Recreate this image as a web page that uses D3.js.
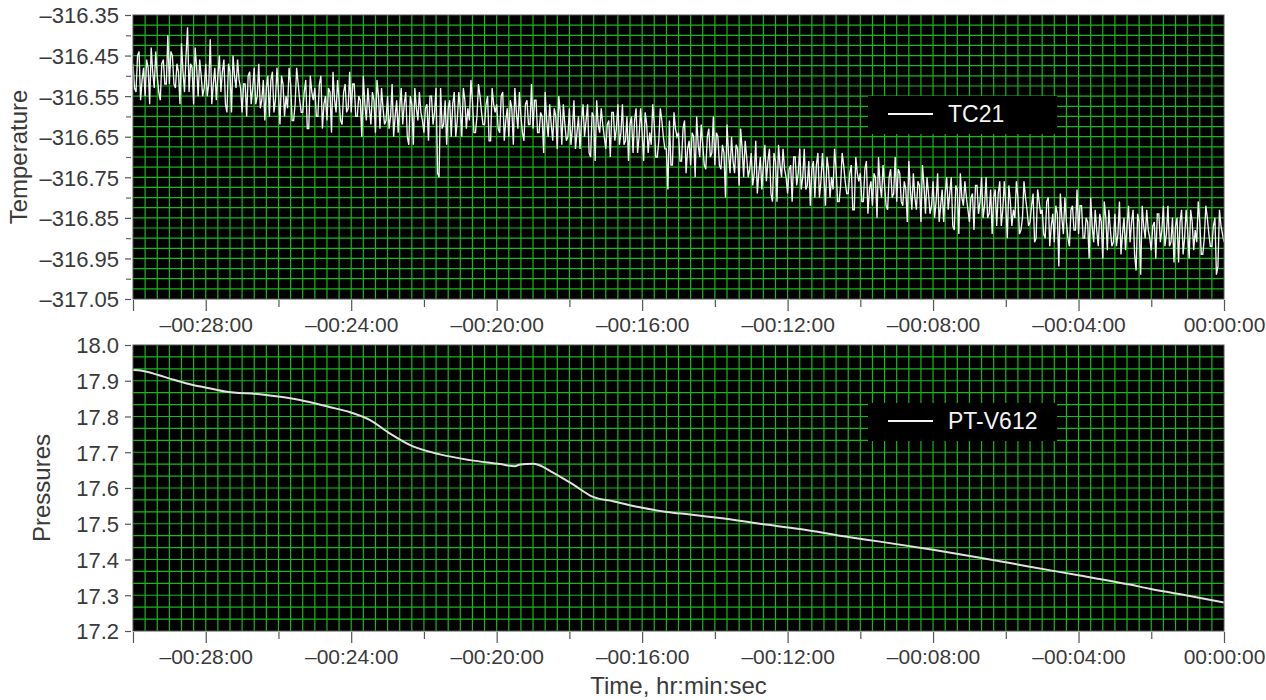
<!DOCTYPE html>
<html>
<head>
<meta charset="utf-8">
<script src="https://cdn.jsdelivr.net/npm/d3@7"></script>
<style>
  html, body { margin: 0; padding: 0; background: #fff; }
  svg { display: block; }
</style>
</head>
<body>
<svg id="chart" width="1266" height="700"></svg>
<script>
// ---------------- DATA ----------------
// Temperature TC21: sampled every 2.5 s from -00:30:00 to 00:00:00
const tempStartSec = -1800;
const tempStepSec = 2.5;
const tempValues = [
  -316.47,-316.53,-316.54,-316.45,-316.44,-316.56,-316.51,-316.48,-316.55,-316.46,-316.48,-316.57,-316.43,-316.49,-316.53,-316.44,-316.50,-316.54,-316.56,-316.47,-316.46,-316.52,-316.52,-316.40,
  -316.52,-316.44,-316.45,-316.52,-316.53,-316.47,-316.49,-316.57,-316.42,-316.49,-316.54,-316.45,-316.38,-316.54,-316.47,-316.48,-316.57,-316.43,-316.48,-316.55,-316.46,-316.50,-316.55,-316.53,
  -316.47,-316.55,-316.52,-316.41,-316.57,-316.52,-316.48,-316.56,-316.50,-316.45,-316.54,-316.49,-316.46,-316.57,-316.59,-316.47,-316.49,-316.59,-316.45,-316.50,-316.53,-316.46,-316.51,-316.53,
  -316.59,-316.52,-316.52,-316.60,-316.50,-316.49,-316.57,-316.53,-316.48,-316.57,-316.55,-316.47,-316.58,-316.56,-316.51,-316.61,-316.53,-316.50,-316.60,-316.51,-316.49,-316.59,-316.56,-316.48,
  -316.54,-316.62,-316.50,-316.52,-316.60,-316.55,-316.58,-316.48,-316.52,-316.61,-316.61,-316.57,-316.48,-316.52,-316.56,-316.59,-316.59,-316.54,-316.51,-316.63,-316.63,-316.50,-316.54,-316.56,
  -316.53,-316.60,-316.60,-316.52,-316.50,-316.63,-316.57,-316.55,-316.61,-316.53,-316.54,-316.64,-316.49,-316.56,-316.59,-316.51,-316.56,-316.61,-316.62,-316.54,-316.52,-316.59,-316.58,-316.49,
  -316.59,-316.52,-316.52,-316.60,-316.60,-316.55,-316.56,-316.65,-316.50,-316.57,-316.61,-316.53,-316.58,-316.62,-316.54,-316.56,-316.64,-316.51,-316.55,-316.63,-316.53,-316.58,-316.62,-316.61,
  -316.55,-316.63,-316.60,-316.52,-316.65,-316.60,-316.56,-316.64,-316.58,-316.53,-316.62,-316.57,-316.54,-316.65,-316.67,-316.55,-316.57,-316.67,-316.53,-316.58,-316.61,-316.54,-316.59,-316.61,
  -316.64,-316.58,-316.57,-316.66,-316.55,-316.55,-316.62,-316.59,-316.53,-316.74,-316.75,-316.53,-316.63,-316.62,-316.56,-316.67,-316.58,-316.56,-316.65,-316.57,-316.54,-316.65,-316.61,-316.54,
  -316.58,-316.65,-316.53,-316.56,-316.63,-316.58,-316.61,-316.51,-316.56,-316.64,-316.64,-316.60,-316.52,-316.55,-316.59,-316.62,-316.62,-316.57,-316.55,-316.66,-316.66,-316.53,-316.57,-316.59,
  -316.57,-316.63,-316.64,-316.55,-316.54,-316.66,-316.61,-316.58,-316.65,-316.56,-316.58,-316.67,-316.53,-316.59,-316.63,-316.54,-316.60,-316.64,-316.66,-316.57,-316.56,-316.62,-316.62,-316.52,
  -316.63,-316.56,-316.56,-316.64,-316.64,-316.59,-316.60,-316.69,-316.54,-316.61,-316.65,-316.57,-316.62,-316.66,-316.58,-316.60,-316.68,-316.55,-316.59,-316.67,-316.57,-316.62,-316.66,-316.65,
  -316.58,-316.67,-316.63,-316.56,-316.68,-316.64,-316.60,-316.68,-316.61,-316.57,-316.65,-316.61,-316.57,-316.69,-316.70,-316.59,-316.60,-316.71,-316.56,-316.62,-316.64,-316.58,-316.62,-316.65,
  -316.68,-316.62,-316.61,-316.70,-316.59,-316.59,-316.66,-316.63,-316.57,-316.67,-316.64,-316.57,-316.67,-316.66,-316.60,-316.71,-316.62,-316.60,-316.69,-316.61,-316.58,-316.69,-316.65,-316.58,
  -316.64,-316.71,-316.59,-316.62,-316.69,-316.64,-316.67,-316.57,-316.62,-316.70,-316.70,-316.66,-316.58,-316.61,-316.65,-316.68,-316.68,-316.78,-316.61,-316.72,-316.72,-316.59,-316.63,-316.65,
  -316.64,-316.71,-316.71,-316.63,-316.61,-316.74,-316.68,-316.66,-316.72,-316.64,-316.65,-316.75,-316.60,-316.67,-316.70,-316.62,-316.67,-316.72,-316.73,-316.65,-316.63,-316.70,-316.69,-316.60,
  -316.72,-316.64,-316.65,-316.72,-316.73,-316.67,-316.69,-316.80,-316.62,-316.69,-316.74,-316.65,-316.71,-316.74,-316.67,-316.68,-316.77,-316.63,-316.68,-316.75,-316.66,-316.70,-316.75,-316.73,
  -316.69,-316.77,-316.74,-316.66,-316.79,-316.74,-316.70,-316.78,-316.72,-316.67,-316.76,-316.71,-316.68,-316.79,-316.81,-316.69,-316.71,-316.81,-316.67,-316.72,-316.75,-316.68,-316.73,-316.75,
  -316.79,-316.73,-316.72,-316.81,-316.70,-316.70,-316.77,-316.74,-316.68,-316.78,-316.75,-316.68,-316.78,-316.77,-316.71,-316.82,-316.73,-316.71,-316.80,-316.72,-316.69,-316.80,-316.76,-316.69,
  -316.75,-316.82,-316.70,-316.73,-316.80,-316.75,-316.78,-316.68,-316.73,-316.81,-316.81,-316.77,-316.69,-316.72,-316.76,-316.79,-316.79,-316.74,-316.72,-316.83,-316.83,-316.70,-316.74,-316.76,
  -316.74,-316.81,-316.81,-316.73,-316.71,-316.84,-316.78,-316.76,-316.82,-316.74,-316.75,-316.85,-316.70,-316.77,-316.80,-316.72,-316.77,-316.82,-316.83,-316.75,-316.73,-316.80,-316.79,-316.70,
  -316.81,-316.73,-316.74,-316.81,-316.82,-316.76,-316.78,-316.86,-316.71,-316.78,-316.83,-316.74,-316.80,-316.83,-316.76,-316.77,-316.86,-316.72,-316.77,-316.84,-316.75,-316.79,-316.84,-316.82,
  -316.76,-316.85,-316.81,-316.74,-316.86,-316.82,-316.78,-316.86,-316.79,-316.75,-316.83,-316.79,-316.75,-316.87,-316.88,-316.77,-316.78,-316.89,-316.74,-316.80,-316.82,-316.76,-316.80,-316.83,
  -316.86,-316.80,-316.79,-316.88,-316.77,-316.77,-316.84,-316.81,-316.75,-316.85,-316.82,-316.75,-316.85,-316.84,-316.78,-316.89,-316.80,-316.78,-316.87,-316.79,-316.76,-316.87,-316.83,-316.76,
  -316.82,-316.90,-316.77,-316.81,-316.87,-316.83,-316.85,-316.76,-316.80,-316.89,-316.88,-316.85,-316.76,-316.80,-316.83,-316.87,-316.86,-316.82,-316.79,-316.91,-316.90,-316.78,-316.81,-316.84,
  -316.83,-316.89,-316.90,-316.81,-316.80,-316.92,-316.87,-316.84,-316.91,-316.82,-316.84,-316.97,-316.79,-316.85,-316.89,-316.80,-316.86,-316.90,-316.92,-316.83,-316.82,-316.88,-316.88,-316.78,
  -316.89,-316.82,-316.82,-316.90,-316.90,-316.85,-316.86,-316.95,-316.80,-316.87,-316.91,-316.83,-316.88,-316.92,-316.84,-316.86,-316.95,-316.81,-316.85,-316.93,-316.83,-316.88,-316.92,-316.91,
  -316.84,-316.92,-316.89,-316.81,-316.94,-316.89,-316.85,-316.93,-316.87,-316.82,-316.91,-316.86,-316.83,-316.94,-316.98,-316.84,-316.86,-316.99,-316.82,-316.87,-316.90,-316.83,-316.88,-316.90,
  -316.93,-316.87,-316.86,-316.95,-316.84,-316.84,-316.91,-316.88,-316.82,-316.92,-316.89,-316.82,-316.92,-316.91,-316.85,-316.96,-316.87,-316.85,-316.96,-316.86,-316.83,-316.94,-316.90,-316.83,
  -316.88,-316.95,-316.83,-316.86,-316.93,-316.88,-316.91,-316.81,-316.86,-316.94,-316.94,-316.90,-316.82,-316.85,-316.89,-316.92,-316.92,-316.87,-316.85,-316.99,-316.97,-316.83,-316.87,-316.89,
  -316.91
];

// Pressure PT-V612: time (minutes) and value
const pressTimesMin = [-30.0,-29.75,-29.31,-28.85,-28.38,-27.94,-27.47,-26.51,-25.41,-24.58,-24.03,-23.48,-22.93,-22.38,-21.56,-20.73,-19.91,-19.50,-19.36,-19.00,-18.86,-18.45,-17.90,-17.35,-16.80,-16.06,-15.32,-14.68,-13.86,-12.76,-11.66,-10.29,-9.46,-8.0,-6.71,-5.34,-3.96,-2.59,-2.04,-0.94,0.0];
const pressValues   = [17.930,17.928,17.916,17.902,17.889,17.880,17.870,17.862,17.846,17.826,17.812,17.790,17.752,17.720,17.694,17.678,17.667,17.661,17.666,17.668,17.665,17.643,17.610,17.575,17.563,17.546,17.533,17.526,17.516,17.500,17.485,17.462,17.450,17.427,17.405,17.380,17.355,17.330,17.318,17.298,17.280];

// Axis ticks
const xTickSecMajor = [-1680,-1440,-1200,-960,-720,-480,-240,0];
const xTickLabels   = ["–00:28:00","–00:24:00","–00:20:00","–00:16:00","–00:12:00","–00:08:00","–00:04:00","00:00:00"];
const xTickSecMinor = [-1800,-1560,-1320,-1080,-840,-600,-360,-120];
const tempTicks = [-317.05,-316.95,-316.85,-316.75,-316.65,-316.55,-316.45,-316.35];
const tempMinorTicks = [-317.0,-316.9,-316.8,-316.7,-316.6,-316.5,-316.4];
const pressTicks = [17.2,17.3,17.4,17.5,17.6,17.7,17.8,17.9,18.0];
const seriesNames = ["TC21", "PT-V612"];
const axisTitles = ["Temperature", "Pressures", "Time, hr:min:sec"];

// ---------------- LAYOUT ----------------
const svg = d3.select("#chart");
const left = 133, right = 1224;
const panels = [
  { top: 15, bottom: 299, domain: [-317.05, -316.35], ticks: tempTicks, minor: tempMinorTicks, gridStep: 0.025,
    fmt: v => "–" + Math.abs(v).toFixed(2), title: axisTitles[0], titleX: 27, legendY: 96 },
  { top: 345, bottom: 631, domain: [17.2, 18.0], ticks: pressTicks, minor: [], gridStep: 0.1 / 3,
    fmt: v => v.toFixed(1), title: axisTitles[1], titleX: 50, legendY: 403 }
];

const x = d3.scaleLinear().domain([-1800, 0]).range([left, right]);
const font = '"Liberation Sans", Arial, sans-serif';
const gridColor = "#18b818";
const textColor = "#3a3a3a";

panels.forEach((p, pi) => {
  const y = d3.scaleLinear().domain(p.domain).range([p.bottom, p.top]);
  const g = svg.append("g");
  g.append("rect").attr("x", left).attr("y", p.top).attr("width", right - left).attr("height", p.bottom - p.top).attr("fill", "#000");

  // vertical grid every 20 s
  const vGrid = d3.range(-1780, 0, 20);
  g.selectAll(".vg").data(vGrid).join("line")
    .attr("x1", d => x(d)).attr("x2", d => x(d)).attr("y1", p.top).attr("y2", p.bottom)
    .attr("stroke", gridColor).attr("stroke-width", 1.2);
  // horizontal grid
  const n = Math.round((p.domain[1] - p.domain[0]) / p.gridStep);
  const hGrid = d3.range(1, n).map(i => p.domain[0] + i * p.gridStep);
  g.selectAll(".hg").data(hGrid).join("line")
    .attr("x1", left).attr("x2", right).attr("y1", d => y(d)).attr("y2", d => y(d))
    .attr("stroke", gridColor).attr("stroke-width", 1.2);

  // series
  if (pi === 0) {
    const line = d3.line().x((d, i) => x(tempStartSec + i * tempStepSec)).y(d => y(d));
    g.append("path").datum(tempValues).attr("d", line).attr("fill", "none")
      .attr("stroke", "#f4f4f4").attr("stroke-width", 1.35);
  } else {
    const line = d3.line().curve(d3.curveMonotoneX).x((d, i) => x(pressTimesMin[i] * 60)).y(d => y(d));
    g.append("path").datum(pressValues).attr("d", line).attr("fill", "none")
      .attr("stroke", "#e0e0e0").attr("stroke-width", 2);
  }

  // frame
  g.append("rect").attr("x", left).attr("y", p.top).attr("width", right - left).attr("height", p.bottom - p.top)
    .attr("fill", "none").attr("stroke", "#555").attr("stroke-width", 1);

  // y axis
  const ya = g.append("g").attr("transform", `translate(${left - 2},0)`)
    .call(d3.axisLeft(y).tickValues(p.ticks).tickFormat(p.fmt).tickSize(6).tickPadding(6));
  ya.select(".domain").remove();
  ya.selectAll(".tick line").attr("stroke", "#555").attr("stroke-width", 1.2);
  ya.selectAll(".tick text").attr("font-size", 22).attr("font-family", font).attr("fill", textColor).attr("dy", "0.36em");
  if (p.minor.length) {
    const ym = g.append("g").attr("transform", `translate(${left - 2},0)`)
      .call(d3.axisLeft(y).tickValues(p.minor).tickFormat("").tickSize(5));
    ym.select(".domain").remove();
    ym.selectAll(".tick line").attr("stroke", "#666").attr("stroke-width", 1.2);
  }

  // x axis
  const xa = g.append("g").attr("transform", `translate(0,${p.bottom + 1})`)
    .call(d3.axisBottom(x).tickValues(xTickSecMajor).tickFormat((d, i) => xTickLabels[i]).tickSize(11).tickPadding(6));
  xa.select(".domain").remove();
  xa.selectAll(".tick line").attr("stroke", "#555").attr("stroke-width", 1.2);
  xa.selectAll(".tick text").attr("font-size", 21).attr("font-family", font).attr("fill", textColor);
  const xm = g.append("g").attr("transform", `translate(0,${p.bottom + 1})`)
    .call(d3.axisBottom(x).tickValues(xTickSecMinor).tickFormat("").tickSize(7));
  xm.select(".domain").remove();
  xm.selectAll(".tick line").attr("stroke", "#555").attr("stroke-width", 1.2);
  xm.selectAll(".tick").filter(d => d === -1800).select("line").attr("y2", 11);

  // y title
  svg.append("text").attr("transform", `translate(${p.titleX},${(p.top + p.bottom) / 2}) rotate(-90)`)
    .attr("text-anchor", "middle").attr("font-family", font).attr("font-size", 24).attr("fill", textColor)
    .text(p.title);

  // legend
  const lg = svg.append("g").attr("transform", `translate(868,${p.legendY})`);
  lg.append("rect").attr("width", 189).attr("height", 38).attr("fill", "#000");
  lg.append("line").attr("x1", 20).attr("x2", 65).attr("y1", 18).attr("y2", 18).attr("stroke", "#f4f4f4").attr("stroke-width", 2);
  lg.append("text").attr("x", 80).attr("y", 26).attr("font-family", font).attr("font-size", 23).attr("fill", "#f4f4f4")
    .text(seriesNames[pi]);
});

svg.append("text").attr("x", (left + right) / 2).attr("y", 694).attr("text-anchor", "middle")
  .attr("font-family", font).attr("font-size", 24).attr("fill", textColor).text(axisTitles[2]);
</script>
</body>
</html>
